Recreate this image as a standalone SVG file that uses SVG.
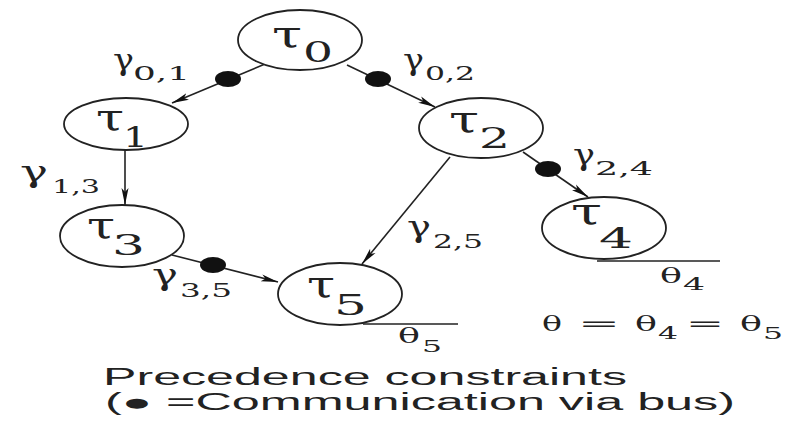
<svg xmlns="http://www.w3.org/2000/svg" width="790" height="421" viewBox="0 0 790 421">
<defs>
<marker id="ah" markerWidth="18" markerHeight="10" refX="17" refY="5" orient="auto" markerUnits="userSpaceOnUse">
<path d="M0,1.5 L17,5 L0,8.5 L4,5 Z" fill="#111"/>
</marker>
<style>
.node{fill:#fff;stroke:#222;stroke-width:1.8}
.edge{stroke:#222;stroke-width:1.6;fill:none}
.bus{fill:#111}
.t{font-family:"DejaVu Serif","Liberation Serif",serif;fill:#222}
.tau{font-size:38px}
.sub{font-size:27px}
.g{font-size:29px}
.gs{font-size:18px}
.th{font-size:21px}
.ths{font-size:17px}
.cap{font-family:"Liberation Sans",Arial,sans-serif;font-size:23px;fill:#222}
.base{stroke:#222;stroke-width:1.6}
</style>
</defs>
<rect width="790" height="421" fill="#fff"/>
<g id="connectors">
<line class="edge" x1="265" y1="64" x2="172" y2="103" marker-end="url(#ah)"/>
<ellipse class="bus" cx="228" cy="79" rx="13" ry="8"/>
<line class="edge" x1="347" y1="65" x2="435" y2="107" marker-end="url(#ah)"/>
<ellipse class="bus" cx="378" cy="79" rx="13" ry="8"/>
<line class="edge" x1="125" y1="150" x2="125" y2="205" marker-end="url(#ah)"/>
<line class="edge" x1="523" y1="152" x2="588" y2="197" marker-end="url(#ah)"/>
<ellipse class="bus" cx="548" cy="169" rx="13" ry="8"/>
<line class="edge" x1="450" y1="157" x2="362" y2="264" marker-end="url(#ah)"/>
<line class="edge" x1="172" y1="255" x2="278" y2="282" marker-end="url(#ah)"/>
<ellipse class="bus" cx="213" cy="265" rx="13" ry="8"/>
<text class="t g" x="113" y="70" textLength="21" lengthAdjust="spacingAndGlyphs">γ</text>
<text class="t gs" x="133" y="80" textLength="57" lengthAdjust="spacingAndGlyphs">0,1</text>
<text class="t g" x="403" y="70" textLength="21" lengthAdjust="spacingAndGlyphs">γ</text>
<text class="t gs" x="425" y="80" textLength="50" lengthAdjust="spacingAndGlyphs">0,2</text>
<text class="t g" x="20" y="182" textLength="28" lengthAdjust="spacingAndGlyphs">γ</text>
<text class="t gs" x="52" y="193" textLength="48" lengthAdjust="spacingAndGlyphs">1,3</text>
<text class="t g" x="573" y="165" textLength="22" lengthAdjust="spacingAndGlyphs">γ</text>
<text class="t gs" x="595" y="175" textLength="58" lengthAdjust="spacingAndGlyphs">2,4</text>
<text class="t g" x="407" y="237" textLength="24" lengthAdjust="spacingAndGlyphs">γ</text>
<text class="t gs" x="433" y="248" textLength="50" lengthAdjust="spacingAndGlyphs">2,5</text>
<text class="t g" x="152" y="285" textLength="26" lengthAdjust="spacingAndGlyphs">γ</text>
<text class="t gs" x="180" y="297" textLength="52" lengthAdjust="spacingAndGlyphs">3,5</text>
</g>
<g id="tau0">
<ellipse class="node" cx="300" cy="40" rx="62" ry="30"/>
<text class="t tau" x="272" y="47" textLength="30" lengthAdjust="spacingAndGlyphs">τ</text>
<text class="t sub" x="303" y="62" textLength="30" lengthAdjust="spacingAndGlyphs">0</text>
</g>
<g id="tau1">
<ellipse class="node" cx="126" cy="124" rx="62" ry="26"/>
<text class="t tau" x="96" y="130" textLength="28" lengthAdjust="spacingAndGlyphs">τ</text>
<text class="t sub" x="123" y="147" textLength="25" lengthAdjust="spacingAndGlyphs">1</text>
</g>
<g id="tau2">
<ellipse class="node" cx="481" cy="128" rx="62" ry="30"/>
<text class="t tau" x="449" y="132" textLength="30" lengthAdjust="spacingAndGlyphs">τ</text>
<text class="t sub" x="479" y="148" textLength="31" lengthAdjust="spacingAndGlyphs">2</text>
</g>
<g id="tau3">
<ellipse class="node" cx="122" cy="236" rx="62" ry="31"/>
<text class="t tau" x="87" y="238" textLength="28" lengthAdjust="spacingAndGlyphs">τ</text>
<text class="t sub" x="112" y="255" textLength="33" lengthAdjust="spacingAndGlyphs">3</text>
</g>
<g id="tau4">
<ellipse class="node" cx="604" cy="228" rx="62" ry="31"/>
<text class="t tau" x="571" y="224" textLength="31" lengthAdjust="spacingAndGlyphs">τ</text>
<text class="t sub" x="599" y="248" textLength="34" lengthAdjust="spacingAndGlyphs">4</text>
<line class="base" x1="597" y1="261" x2="720" y2="261"/>
<text class="t th" x="660" y="283" textLength="22" lengthAdjust="spacingAndGlyphs">θ</text>
<text class="t ths" x="683" y="290" textLength="22" lengthAdjust="spacingAndGlyphs">4</text>
</g>
<g id="tau5">
<ellipse class="node" cx="340" cy="294" rx="62" ry="31"/>
<text class="t tau" x="307" y="297" textLength="28" lengthAdjust="spacingAndGlyphs">τ</text>
<text class="t sub" x="334" y="315" textLength="33" lengthAdjust="spacingAndGlyphs">5</text>
<line class="base" x1="363" y1="324" x2="458" y2="324"/>
<text class="t th" x="398" y="343" textLength="22" lengthAdjust="spacingAndGlyphs">θ</text>
<text class="t ths" x="422" y="352" textLength="20" lengthAdjust="spacingAndGlyphs">5</text>
</g>
<g id="equation">
<text class="t th" x="542" y="331" textLength="20" lengthAdjust="spacingAndGlyphs">θ</text>
<text class="t th" x="578" y="331" textLength="42" lengthAdjust="spacingAndGlyphs">=</text>
<text class="t th" x="635" y="331" textLength="22" lengthAdjust="spacingAndGlyphs">θ</text>
<text class="t ths" x="658" y="339" textLength="20" lengthAdjust="spacingAndGlyphs">4</text>
<text class="t th" x="686" y="331" textLength="38" lengthAdjust="spacingAndGlyphs">=</text>
<text class="t th" x="740" y="331" textLength="22" lengthAdjust="spacingAndGlyphs">θ</text>
<text class="t ths" x="763" y="339" textLength="20" lengthAdjust="spacingAndGlyphs">5</text>
</g>
<g id="caption">
<text class="cap" x="103" y="385" textLength="524" lengthAdjust="spacingAndGlyphs">Precedence constraints</text>
<text class="cap" x="105" y="410" textLength="630" lengthAdjust="spacingAndGlyphs">(● =Communication via bus)</text>
</g>
</svg>
